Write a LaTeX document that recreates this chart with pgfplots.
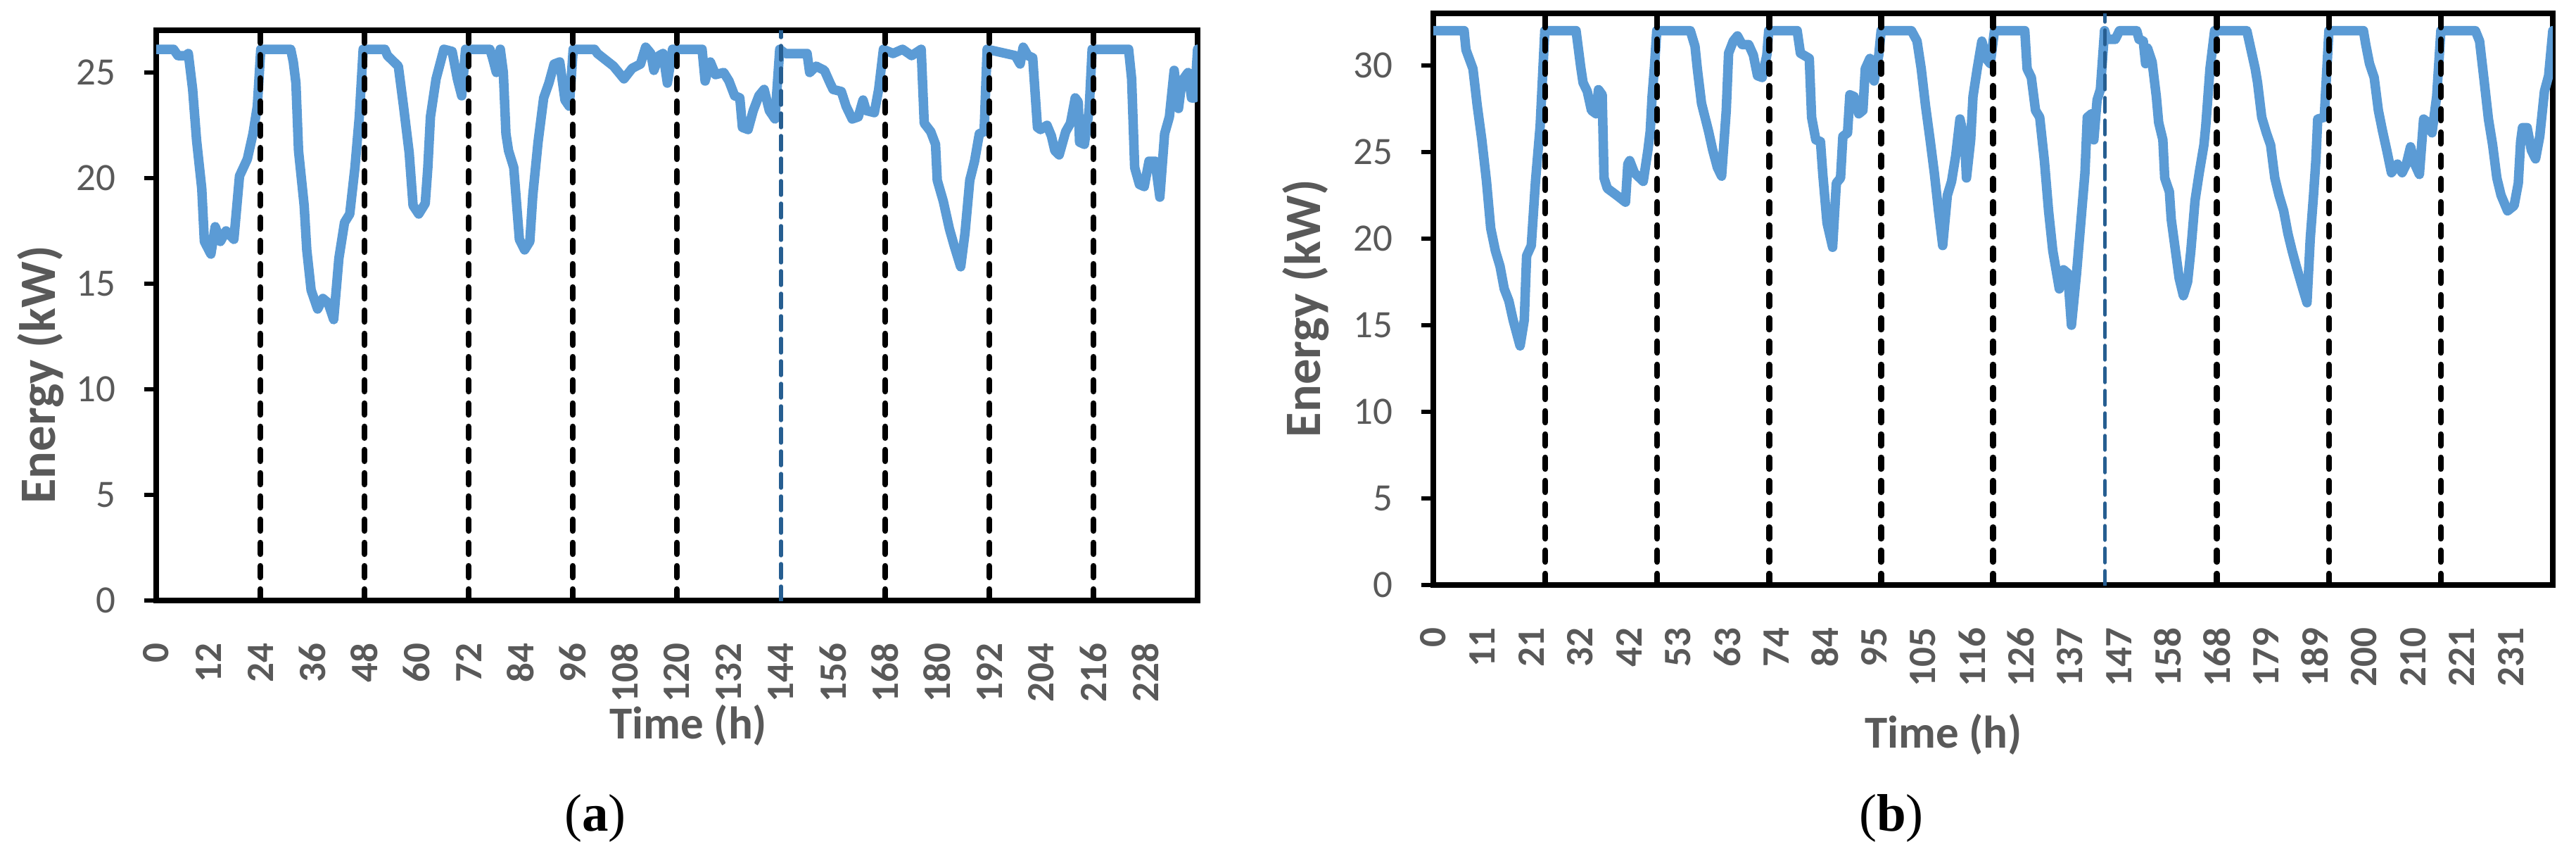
\documentclass[border=0pt]{standalone}
\usepackage{pgfplots}
\pgfplotsset{compat=1.18}
\usepackage{fontspec}
\setmainfont{Carlito}
\newfontfamily\capfont{Liberation Serif}
\definecolor{txtgray}{HTML}{595959}
\definecolor{lineblue}{HTML}{5B9BD5}
\definecolor{darkblue}{RGB}{38,94,145}
\tikzset{
  mydata/.style={lineblue, line width=2.7pt, line join=round, line cap=round},
  myvline/.style={black, line width=1.7pt, dash pattern=on 3.2pt off 3.4pt, line cap=round},
  mybvline/.style={darkblue, line width=1.1pt, dash pattern=on 4pt off 2.4pt, line cap=round},
}
\pgfplotsset{
  myaxis/.style={
    scale only axis,
    anchor=south west,
    axis line style={black, line width=1.7pt},
    tick align=outside,
    major tick length=3.4pt,
    ytick style={black, line width=1.2pt},
    xtick style={draw=none},
    ytick pos=left,
    /pgf/number format/assume math mode=true,
    yticklabel style={font=\fontsize{11}{11}\selectfont, text=txtgray, anchor=east, inner xsep=8pt, inner ysep=0pt},
    xticklabel style={font=\bfseries\fontsize{11}{11}\selectfont, text=txtgray, rotate=90, anchor=east, inner xsep=8.6pt, inner ysep=0pt},
    ylabel style={font=\bfseries\fontsize{14.5}{14.5}\selectfont, text=txtgray, anchor=center},
    xlabel style={font=\bfseries\fontsize{13}{13}\selectfont, text=txtgray, anchor=base},
    ylabel={Energy (kW)},
    xlabel={Time (h)},
    xmin=0, xmax=240, ymin=0,
  }
}
\begin{document}
\begin{tikzpicture}
\path[use as bounding box] (0,0) rectangle (732.2pt,246.4pt);
% ---------------- (a) ----------------
\begin{axis}[myaxis, at={(44.4pt,75.8pt)}, width=296pt, height=162pt,
  ymax=27, ytick={0,5,10,15,20,25},
  xtick={0,12,...,228},
  ylabel style={at={(axis description cs:-0.1108,0.396)}},
  xlabel style={at={(axis description cs:0.511,-0.2432)}},
]
\addplot[mydata] coordinates {
(0,26.1) (4,26.1) (5,25.8) (6.8,25.8) (7.4,25.9) (8.4,24.2) (9.3,21.8) (10.5,19.5) (11.1,17.0)
(12.6,16.4) (13.6,17.7) (14.8,17.0) (16.1,17.5) (17.9,17.1) (19.2,20.1) (21.0,20.9) (22.3,22.1)
(23.3,23.4) (24.1,26.1) (31.0,26.1) (31.6,25.5) (32.2,24.5) (32.8,21.3) (34.1,18.7) (34.7,16.6)
(35.7,14.7) (37.2,13.8) (38.4,14.3) (39.6,14.1) (40.9,13.3) (42.1,16.2) (43.4,17.9) (44.6,18.3)
(45.8,20.5) (46.8,22.9) (47.7,26.1) (52.7,26.1) (53.3,25.8) (55.8,25.3) (57.0,23.4) (58.3,21.2)
(59.2,18.7) (60.5,18.3) (62.0,18.8) (62.6,20.5) (63.2,22.9) (64.5,24.7) (66.3,26.1) (68.2,26.0)
(69.4,24.7) (70.4,23.9) (71.3,26.1) (76.9,26.1) (77.5,25.7) (78.4,25.0) (79.3,26.1) (80.0,25.0)
(80.6,22.1) (81.2,21.3) (82.4,20.5) (83.7,17.1) (84.9,16.6) (86.1,17.0) (86.8,19.2) (88.0,21.7)
(89.3,23.8) (90.5,24.5) (91.7,25.4) (93.0,25.5) (94.2,23.7) (95.2,23.4) (96.1,26.1) (101,26.1)
(101.7,25.9) (105.4,25.3) (107.8,24.7) (109.7,25.2) (111.6,25.4) (112.8,26.2) (114.0,25.9)
(114.7,25.1) (115.9,25.8) (116.8,25.9) (117.8,24.5) (119.0,26.1) (125.8,26.1) (126.5,24.6)
(127.7,25.5) (128.9,24.9) (130.8,25.0) (132.0,24.6) (133.3,23.9) (134.5,23.8) (135.1,22.4)
(136.4,22.3) (137.6,23.2) (138.9,23.9) (140.1,24.2) (141.3,23.2) (142.6,22.8) (143.7,26.1)
(145,25.9) (150,25.9) (150.6,25.0) (152.1,25.3) (154,25.1) (155.3,24.5) (156,24.2) (157.9,24.1)
(159,23.4) (160.4,22.8) (161.8,22.9) (162.9,23.7) (163.6,23.2) (165.5,23.1) (166.5,24.2)
(167.6,26.1) (169.8,25.9) (172,26.1) (174.1,25.8) (176.3,26.1) (176.7,24.1) (177.0,22.6)
(178.5,22.2) (179.6,21.6) (180,19.9) (181.4,18.9) (182.8,17.6) (183.9,16.8) (185.4,15.8)
(186.4,17.4) (187.5,19.9) (188.6,20.8) (189.7,22.1) (190.8,22.2) (191.5,26.1) (198,25.8)
(199.1,25.4) (199.8,26.2) (200.9,25.8) (202,25.7) (202.4,24.5) (203.1,22.4) (203.8,22.3)
(205.3,22.5) (206.3,22.0) (207.1,21.3) (208.1,21.1) (209.6,22.2) (210.7,22.6) (211.8,23.8)
(212.5,23.6) (212.8,21.7) (213.9,21.6) (215.0,23.2) (215.7,26.1) (224.1,26.1) (224.8,24.7)
(225.5,20.5) (226.6,19.7) (227.7,19.6) (228.8,20.8) (230.2,20.8) (231.3,19.1) (232.4,22.1)
(233.5,22.9) (234.6,25.1) (235.6,23.3) (236.4,24.6) (237.8,25.0) (238.6,23.8) (239.3,23.8)
(240,26.1)
};
\addplot[myvline] coordinates {(24,0) (24,27)};
\addplot[myvline] coordinates {(48,0) (48,27)};
\addplot[myvline] coordinates {(72,0) (72,27)};
\addplot[myvline] coordinates {(96,0) (96,27)};
\addplot[myvline] coordinates {(120,0) (120,27)};
\addplot[mybvline] coordinates {(144,0) (144,27)};
\addplot[myvline] coordinates {(168,0) (168,27)};
\addplot[myvline] coordinates {(192,0) (192,27)};
\addplot[myvline] coordinates {(216,0) (216,27)};
\end{axis}
% ---------------- (b) ----------------
\begin{axis}[myaxis, at={(407.4pt,80.2pt)}, width=318.2pt, height=162.4pt,
  ymax=33, ytick={0,5,10,15,20,25,30},
  xtick={0,10.5,21,31.5,42,52.5,63,73.5,84,94.5,105,115.5,126,136.5,147,157.5,168,178.5,189,199.5,210,220.5,231},
  xticklabels={0,11,21,32,42,53,63,74,84,95,105,116,126,137,147,158,168,179,189,200,210,221,231},
  ylabel style={at={(axis description cs:-0.1138,0.484)}},
  xlabel style={at={(axis description cs:0.4557,-0.2845)}},
]
\addplot[mydata] coordinates {
(0,32) (6.6,32) (7.0,30.9) (8.5,29.8) (9.4,27.7) (10.4,25.7) (11.4,23.3) (12.3,20.6) (13.3,19.3)
(14.3,18.4) (15.2,17.1) (16.2,16.4) (17.1,15.3) (18.6,13.8) (19.5,15.3) (20.0,19.0) (21.0,19.6)
(21.9,23.3) (22.9,26.5) (23.9,32) (30.6,32) (31.6,29.9) (32.1,29.0) (33.0,28.5) (33.9,27.4)
(34.9,27.2) (35.4,28.6) (36.2,28.3) (36.6,23.5) (37.3,22.9) (39.3,22.5) (41.2,22.1) (41.7,24.3)
(42.1,24.5) (43.1,23.8) (45.0,23.3) (46.0,25.1) (46.5,26.2) (46.9,28.2) (47.4,29.9) (47.9,32)
(55.1,32) (56.1,31.1) (56.6,29.8) (57.5,27.8) (59.0,26.2) (59.9,25.1) (60.9,24.1) (61.8,23.6)
(62.8,27.4) (63.3,30.7) (64.3,31.4) (65.2,31.7) (66.2,31.2) (67.6,31.2) (68.6,30.6) (69.5,29.4)
(70.5,29.3) (71.5,30.6) (71.9,32) (78.0,32) (78.7,30.7) (80.6,30.4) (81.1,27.0) (82.0,25.7)
(83.0,25.6) (83.5,23.7) (84.4,20.9) (85.6,19.5) (86.4,23.2) (87.3,23.5) (87.8,25.9) (88.8,26.1)
(89.3,28.3) (90.2,28.2) (91.2,27.2) (92.1,27.4) (92.6,29.8) (93.6,30.4) (94.5,29.1) (95.5,30.6)
(96.0,32) (102.5,32) (103.7,31.4) (104.6,29.8) (105.5,27.7) (106.5,25.7) (107.4,23.8) (108.3,21.6)
(109.2,19.6) (110.2,22.5) (111.1,23.3) (112.0,24.8) (112.9,26.9) (113.9,25.7) (114.3,23.5)
(115.2,25.7) (115.7,28.2) (116.6,29.8) (117.6,31.4) (118.5,30.4) (119.4,30.1) (120.3,32)
(126.8,32) (127.3,29.8) (128.2,29.3) (129.1,27.4) (130.0,27.0) (131.0,24.5) (131.9,21.6)
(132.8,19.3) (134.2,17.1) (135.1,18.2) (136.0,18.0) (136.8,15.0) (137.9,18.0) (138.8,20.9)
(139.7,23.8) (140.2,27.0) (141.1,27.2) (141.6,25.7) (142.3,28.0) (143.0,28.6) (143.9,32)
(144.4,31.5) (146.2,31.5) (147.1,32) (150.8,32) (151.3,31.5) (152.2,31.4) (152.7,30.1)
(153.1,31.0) (154.1,30.2) (155.0,28.2) (155.5,26.7) (156.4,25.7) (156.8,23.5) (157.8,22.7)
(158.2,21.1) (159.1,19.3) (159.9,17.7) (160.8,16.7) (161.7,17.5) (162.4,19.3) (163.3,22.2)
(164.2,23.8) (165.2,25.4) (165.6,26.5) (166.5,29.8) (167.5,32) (174.4,32) (175.3,30.9)
(176.2,29.8) (176.7,29.0) (177.6,27.0) (178.6,26.1) (179.5,25.4) (180.4,23.5) (181.3,22.5)
(182.3,21.6) (183.2,20.3) (184.1,19.3) (185.0,18.4) (186.4,17.1) (187.3,16.3) (188.0,20.0)
(188.7,22.5) (189.2,24.5) (189.6,26.9) (191.0,27.0) (192.0,32) (199.4,32) (199.9,31.2)
(200.7,30.1) (201.7,29.3) (202.6,27.4) (203.5,26.2) (204.4,25.1) (205.4,23.8) (206.7,24.3)
(207.7,23.8) (208.6,24.3) (209.5,25.3) (210.4,24.3) (211.4,23.7) (212.3,26.9) (213.2,26.7)
(214.1,26.1) (215.1,28.2) (216.0,32) (223.4,32) (224.3,31.4) (225.2,29.3) (226.2,26.9)
(227.1,25.4) (228.0,23.5) (228.9,22.5) (230.3,21.6) (231.7,21.9) (232.6,23.2) (233.1,25.6)
(233.5,26.4) (234.5,26.4) (235.4,25.1) (236.3,24.6) (237.2,25.9) (238.2,28.5) (239.1,29.4)
(240,32)
};
\addplot[myvline] coordinates {(24,0) (24,33)};
\addplot[myvline] coordinates {(48,0) (48,33)};
\addplot[myvline] coordinates {(72,0) (72,33)};
\addplot[myvline] coordinates {(96,0) (96,33)};
\addplot[myvline] coordinates {(120,0) (120,33)};
\addplot[mybvline] coordinates {(144,0) (144,33)};
\addplot[myvline] coordinates {(168,0) (168,33)};
\addplot[myvline] coordinates {(192,0) (192,33)};
\addplot[myvline] coordinates {(216,0) (216,33)};
\end{axis}
\node[font=\capfont\fontsize{15}{15}\selectfont, anchor=base] at (169.2pt,10.4pt) {(\textbf{a})};
\node[font=\capfont\fontsize{15}{15}\selectfont, anchor=base] at (537.6pt,10.4pt) {(\textbf{b})};
\end{tikzpicture}
\end{document}
